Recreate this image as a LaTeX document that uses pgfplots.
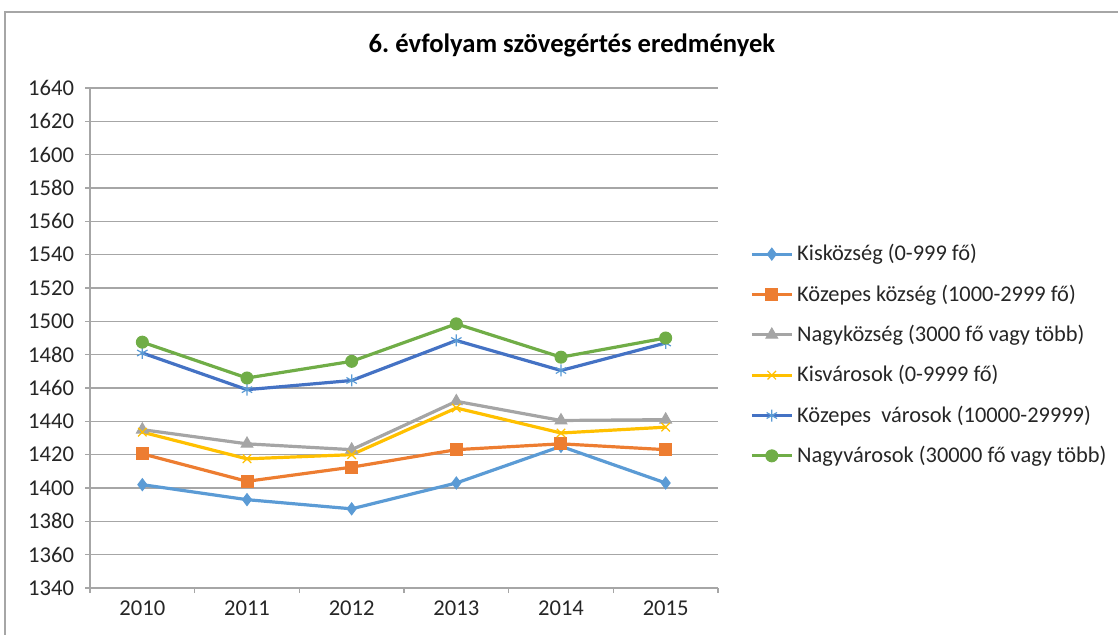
\documentclass[border=0pt]{standalone}
\usepackage{fontspec}
\setmainfont{Carlito}
\usepackage{pgfplots}
\pgfplotsset{compat=1.18}
\definecolor{cA}{HTML}{5B9BD5}
\definecolor{cB}{HTML}{ED7D31}
\definecolor{cC}{HTML}{A5A5A5}
\definecolor{cD}{HTML}{FFC000}
\definecolor{cE}{HTML}{4472C4}
\definecolor{cF}{HTML}{70AD47}
\definecolor{gridc}{HTML}{A6A6A6}
\begin{document}
\begin{tikzpicture}
\useasboundingbox (0,0) rectangle (559bp,317.5bp);
\draw[gridc, line width=0.6bp] (2.5bp,0) -- (2.5bp,311.5bp) -- (560bp,311.5bp);
\node[font=\fontsize{13.3bp}{16bp}\selectfont\bfseries] at (286bp,295bp) {6.\ évfolyam szövegértés eredmények};
\begin{axis}[
  at={(45bp,23.5bp)}, anchor=south west,
  scale only axis, width=314bp, height=250bp,
  xmin=-0.5, xmax=5.5, ymin=1340, ymax=1640,
  ytick distance=20,
  xtick={-0.5,0.5,1.5,2.5,3.5,4.5,5.5}, xticklabels={},
  extra x ticks={0,1,2,3,4,5},
  extra x tick labels={2010,2011,2012,2013,2014,2015},
  extra x tick style={major tick length=0pt, grid=none},
  axis x line*=bottom, axis y line*=left,
  axis line style={gridc, line width=0.8bp, -},
  tick style={gridc, line width=0.8bp},
  tick align=outside, major tick length=2.5bp,
  ymajorgrids, grid style={gridc, line width=0.8bp},
  /pgf/number format/assume math mode=true,
  /pgf/number format/set thousands separator={},
  tick label style={font=\fontsize{11.3bp}{13bp}\selectfont, text=black!85},
  xticklabel style={yshift=-3bp},
  yticklabel style={xshift=-2bp},
  legend cell align=left,
  legend style={at={([xshift=13bp]1,0.466)}, anchor=west, draw=none,
    font=\fontsize{11.2bp}{13bp}\selectfont, text=black!85, row sep=6.5bp},
  legend image code/.code={\draw[mark repeat=2,mark phase=2,#1] plot coordinates {(0cm,0cm) (0.35cm,0cm) (0.7cm,0cm)};},
  every axis plot/.append style={line width=1.6bp},
]
\addplot[cA, mark=diamond*, mark size=3bp, mark options={line width=0.5bp}] coordinates {(0,1402) (1,1393) (2,1387.5) (3,1403) (4,1425) (5,1403)};
\addlegendentry{Kisközség (0-999 fő)}
\addplot[cB, mark=square*, mark size=3bp, mark options={line width=0.5bp}] coordinates {(0,1420.5) (1,1404) (2,1412.5) (3,1423) (4,1426.5) (5,1423)};
\addlegendentry{Közepes község (1000-2999 fő)}
\addplot[cC, mark=triangle*, mark size=3.4bp, mark options={line width=0.5bp}] coordinates {(0,1435) (1,1426.5) (2,1423) (3,1452) (4,1440.5) (5,1441)};
\addlegendentry{Nagyközség (3000 fő vagy több)}
\addplot[cD, mark=x, mark size=3bp, mark options={line width=0.6bp}] coordinates {(0,1433.5) (1,1417.5) (2,1420) (3,1448) (4,1433) (5,1436.5)};
\addlegendentry{Kisvárosok (0-9999 fő)}
\addplot[cE, mark=asterisk, mark size=3bp, mark options={line width=0.6bp, cA}] coordinates {(0,1481) (1,1459) (2,1464.5) (3,1488.5) (4,1470.5) (5,1487)};
\addlegendentry{Közepes\ \ városok (10000-29999)}
\addplot[cF, mark=*, mark size=3bp, mark options={line width=0.5bp}] coordinates {(0,1487.5) (1,1466) (2,1476) (3,1498.5) (4,1478.5) (5,1490)};
\addlegendentry{Nagyvárosok (30000 fő vagy több)}
\end{axis}
\end{tikzpicture}
\end{document}
